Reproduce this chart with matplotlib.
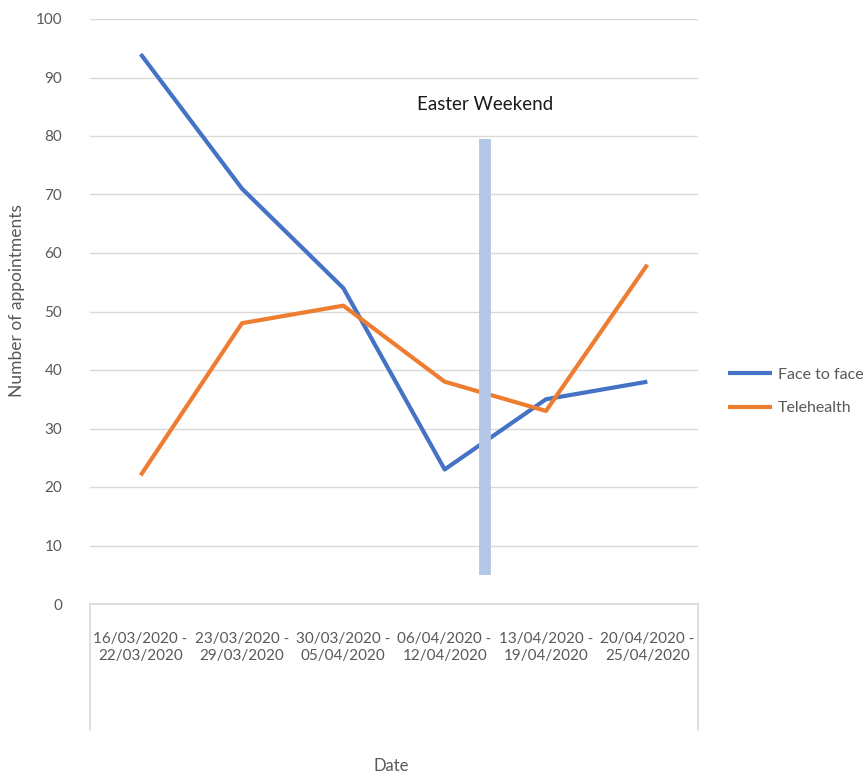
import matplotlib
matplotlib.use("Agg")
import matplotlib.pyplot as plt
from matplotlib.lines import Line2D

plt.rcParams['font.family'] = ['Lato', 'DejaVu Sans']

weeks = ["16/03/2020 -\n22/03/2020", "23/03/2020 -\n29/03/2020", "30/03/2020 -\n05/04/2020",
         "06/04/2020 -\n12/04/2020", "13/04/2020 -\n19/04/2020", "20/04/2020 -\n25/04/2020"]
face_to_face = [94, 71, 54, 23, 35, 38]
telehealth = [22, 48, 51, 38, 33, 58]
easter_pos = 3.4
easter_range = (5, 79.5)
y_ticks = list(range(0, 101, 10))

BLUE = "#4472C4"
ORANGE = "#ED7D31"
GRAY = "#595959"
GRID = "#D9D9D9"

fig = plt.figure(figsize=(8.68, 7.73), dpi=100)
ax = fig.add_axes([90/868, 1 - 604/773, 608/868, 585/773])

x = list(range(len(weeks)))
ax.plot(x, face_to_face, color=BLUE, lw=3, label="Face to face", solid_capstyle='butt', zorder=3)
ax.plot(x, telehealth, color=ORANGE, lw=3, label="Telehealth", solid_capstyle='butt', zorder=3)

# Easter weekend marker
ax.plot([easter_pos, easter_pos], easter_range, color="#B4C7E7", lw=8.5,
        solid_capstyle='butt', zorder=4)
ax.text(easter_pos, 85.3, "Easter Weekend", ha='center', va='center', fontsize=13.5,
        color="#1a1a1a", zorder=5)

ax.set_xlim(-0.5, len(weeks) - 0.5)
ax.set_ylim(0, 100)
ax.set_yticks(y_ticks)
ax.set_xticks(x)
ax.set_xticklabels(weeks, fontsize=11, color=GRAY, linespacing=1.25)
ax.tick_params(axis='x', length=0, pad=20)
ax.tick_params(axis='y', length=0, pad=20, labelsize=11, labelcolor=GRAY)
ax.grid(axis='y', color=GRID, lw=1)
ax.set_axisbelow(True)
for s in ['top', 'right', 'left']:
    ax.spines[s].set_visible(False)
ax.spines['bottom'].set_color(GRID)
ax.spines['bottom'].set_linewidth(1.2)

# category box outline
drop = 126 / 585
for xa in (0, 1):
    ax.add_line(Line2D([xa, xa], [0, -drop], transform=ax.transAxes, color=GRID,
                       lw=1.2, clip_on=False))

fig.text(391/868, 1 - 766/773, "Date", ha='center', va='center', fontsize=12, color=GRAY)
fig.text(17/868, 1 - 301/773, "Number of appointments", ha='center', va='center',
         rotation=90, fontsize=12.5, color=GRAY)

leg = ax.legend(loc='center left', bbox_to_anchor=(1.025, 0.363), frameon=False,
                fontsize=11.5, handlelength=2.8, labelspacing=1.2, handletextpad=0.35)
for t in leg.get_texts():
    t.set_color(GRAY)

fig.savefig("out.png", dpi=100, facecolor="white")
